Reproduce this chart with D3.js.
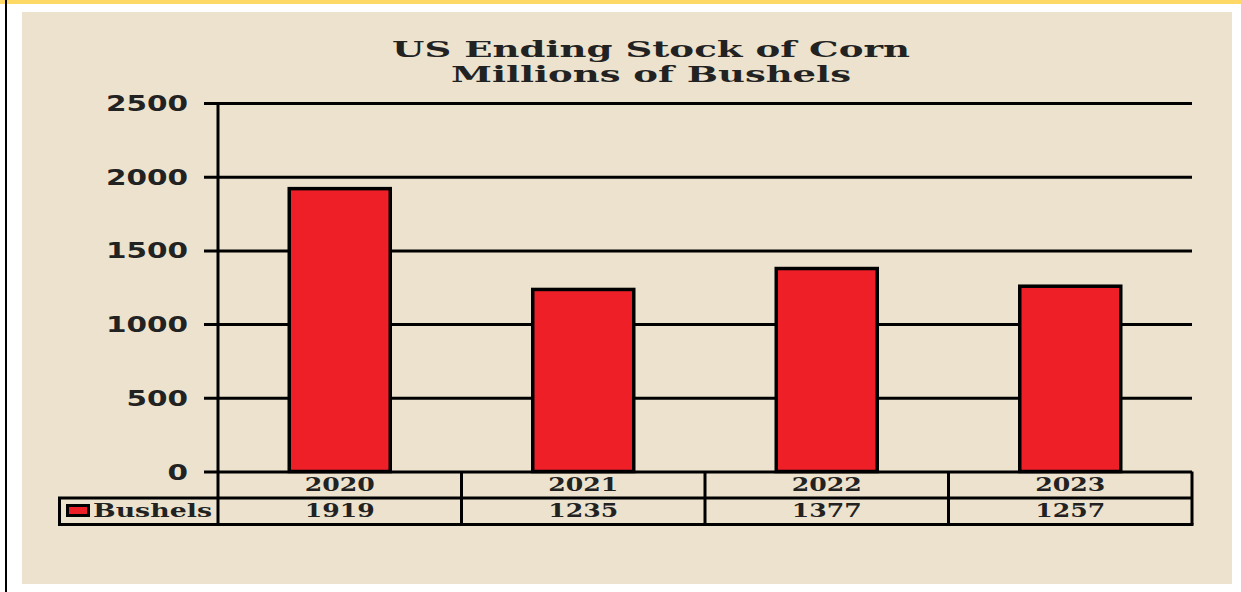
<!DOCTYPE html>
<html>
<head>
<meta charset="utf-8">
<script src="https://cdn.jsdelivr.net/npm/d3@7"></script>
<style>
  body { margin: 0; background: #fff; }
  svg { display: block; }
</style>
</head>
<body>
<svg id="chart" width="1241" height="592"></svg>
<script>
// chart values
const years = ['2020', '2021', '2022', '2023'];
const bushels = [1919, 1235, 1377, 1257];
const yTicks = [0, 500, 1000, 1500, 2000, 2500];
const titleLines = ['US Ending Stock of Corn', 'Millions of Bushels'];
const seriesName = 'Bushels';

/* -------------------------------------------------------------------------- */
const svg = d3.select('#chart');
const red = '#ef1f28', beige = '#ece2cd';

// frame: yellow band on top, black rule at the left, beige panel
svg.append('rect').attr('x', 0).attr('y', 0).attr('width', 1241).attr('height', 4).attr('fill', '#ffd966');
svg.append('rect').attr('x', 5).attr('y', 0).attr('width', 2).attr('height', 592).attr('fill', '#000');
svg.append('rect').attr('x', 22).attr('y', 12).attr('width', 1210).attr('height', 572).attr('fill', beige);

const plotL = 218, plotR = 1192, plotT = 103, zero = 471.5;
const rowH = 26.5;

const x = d3.scaleBand().domain(years).range([plotL, plotR]);
const y = d3.scaleLinear().domain([0, 2500]).range([zero, plotT]);

// title
svg.selectAll('text.title')
  .data(titleLines)
  .join('text')
  .attr('class', 'title')
  .attr('x', 651)
  .attr('y', (d, i) => 57 + i * 25)
  .attr('text-anchor', 'middle')
  .attr('font-family', 'DejaVu Serif')
  .attr('font-weight', 'bold')
  .attr('font-size', 22)
  .attr('fill', '#222')
  .attr('textLength', (d, i) => i == 0 ? 518 : 400)
  .attr('lengthAdjust', 'spacingAndGlyphs')
  .text(d => d);

// gridlines + tick labels
const yAxis = d3.axisLeft(y).tickValues(yTicks).tickFormat(d3.format('d')).tickSize(0).tickPadding(16);
const gy = svg.append('g').attr('transform', `translate(204,0)`).call(yAxis);
gy.select('.domain').remove();
gy.selectAll('.tick line')
  .attr('x1', 0).attr('x2', plotR - 204)
  .attr('stroke', '#000').attr('stroke-width', 3);
gy.selectAll('.tick text')
  .attr('x', -16)
  .attr('font-family', 'DejaVu Sans')
  .attr('font-weight', 'bold')
  .attr('font-size', 21)
  .attr('fill', '#222')
  .attr('textLength', d => String(d).length * 20.5)
  .attr('lengthAdjust', 'spacingAndGlyphs')
  .attr('dy', '0.36em');

// bars
const bw = 101;
svg.selectAll('rect.bar')
  .data(bushels)
  .join('rect')
  .attr('class', 'bar')
  .attr('x', (d, i) => x(years[i]) + x.bandwidth() / 2 - bw / 2)
  .attr('y', d => y(d))
  .attr('width', bw)
  .attr('height', d => zero - y(d))
  .attr('fill', red)
  .attr('stroke', '#000')
  .attr('stroke-width', 3.5);

// vertical axis line (runs down through the data table)
svg.append('line')
  .attr('x1', plotL).attr('x2', plotL)
  .attr('y1', plotT).attr('y2', zero + 2 * rowH)
  .attr('stroke', '#000').attr('stroke-width', 3);

// data table
const tbl = svg.append('g');
tbl.append('line').attr('x1', 58).attr('x2', plotR).attr('y1', zero + rowH).attr('y2', zero + rowH)
  .attr('stroke', '#000').attr('stroke-width', 3);
tbl.append('line').attr('x1', 58).attr('x2', plotR + 1.5).attr('y1', zero + 2 * rowH).attr('y2', zero + 2 * rowH)
  .attr('stroke', '#000').attr('stroke-width', 3);
tbl.append('line').attr('x1', 59.5).attr('x2', 59.5).attr('y1', zero + rowH).attr('y2', zero + 2 * rowH + 1.5)
  .attr('stroke', '#000').attr('stroke-width', 3);
tbl.selectAll('line.col')
  .data(years)
  .join('line')
  .attr('class', 'col')
  .attr('x1', d => x(d) + x.bandwidth()).attr('x2', d => x(d) + x.bandwidth())
  .attr('y1', zero).attr('y2', zero + 2 * rowH)
  .attr('stroke', '#000').attr('stroke-width', 3);

const cellText = sel => sel
  .attr('text-anchor', 'middle')
  .attr('font-family', 'DejaVu Serif')
  .attr('font-weight', 'bold')
  .attr('font-size', 18)
  .attr('fill', '#222')
  .attr('textLength', 70)
  .attr('lengthAdjust', 'spacingAndGlyphs');

tbl.selectAll('text.year')
  .data(years)
  .join('text')
  .attr('class', 'year')
  .attr('x', d => x(d) + x.bandwidth() / 2)
  .attr('y', zero + 19)
  .call(cellText)
  .text(d => d);

tbl.selectAll('text.val')
  .data(bushels)
  .join('text')
  .attr('class', 'val')
  .attr('x', (d, i) => x(years[i]) + x.bandwidth() / 2)
  .attr('y', zero + rowH + 19)
  .call(cellText)
  .text(d => d);

// legend key in table
tbl.append('rect').attr('x', 67.5).attr('y', 505.5).attr('width', 21).attr('height', 10)
  .attr('fill', red).attr('stroke', '#000').attr('stroke-width', 3);
tbl.append('text')
  .attr('x', 93).attr('y', zero + rowH + 19)
  .attr('font-family', 'DejaVu Serif')
  .attr('font-weight', 'bold')
  .attr('font-size', 18)
  .attr('fill', '#222')
  .attr('textLength', 119)
  .attr('lengthAdjust', 'spacingAndGlyphs')
  .text(seriesName);
</script>
</body>
</html>
